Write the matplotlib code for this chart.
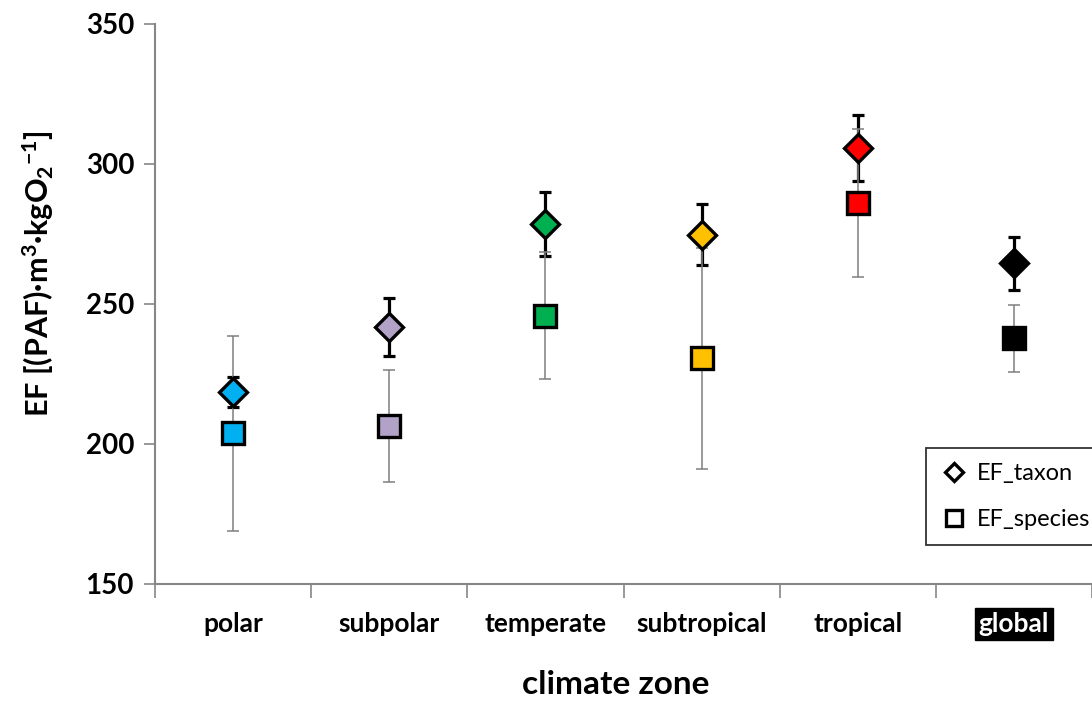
import matplotlib
matplotlib.use("Agg")
import matplotlib.pyplot as plt
from matplotlib.lines import Line2D
import numpy as np

plt.rcParams['font.family'] = ['Lato', 'DejaVu Sans']
plt.rcParams['font.weight'] = 'bold'
plt.rcParams['mathtext.fontset'] = 'custom'
plt.rcParams['mathtext.rm'] = 'Lato:bold'
plt.rcParams['mathtext.it'] = 'Lato:bold'
plt.rcParams['mathtext.bf'] = 'Lato:bold'
plt.rcParams['mathtext.default'] = 'rm'

zones = ['polar', 'subpolar', 'temperate', 'subtropical', 'tropical', 'global']
colors = ['#00B0F0', '#B3A2C7', '#00B050', '#FFC000', '#FF0000', '#000000']

ef_taxon = [218.5, 241.9, 278.5, 274.8, 305.6, 264.5]
ef_taxon_err = [5.3, 10.3, 11.5, 11.0, 11.8, 9.6]
ef_species = [203.8, 206.5, 245.8, 230.6, 286.2, 237.7]
ef_species_err = [34.9, 20.0, 22.7, 39.4, 26.4, 11.9]

W, H = 1092, 701
fig = plt.figure(figsize=(W / 100, H / 100), dpi=100)
ax = fig.add_axes([155 / W, 1 - 584 / H, (1096 - 155) / W, 560 / H])

x = np.arange(len(zones))
gray = '#7F7F7F'

ax.errorbar(x, ef_taxon, yerr=ef_taxon_err, fmt='none', ecolor='black',
            elinewidth=2.3, capsize=4.5, capthick=2.3, zorder=2)
ax.errorbar(x, ef_species, yerr=ef_species_err, fmt='none', ecolor=gray,
            elinewidth=1.1, capsize=4.5, capthick=1.1, zorder=3)
for xi, t, s, c in zip(x, ef_taxon, ef_species, colors):
    ax.plot(xi, t, marker='D', markersize=14.5, mfc=c, mec='black', mew=2.4,
            linestyle='none', zorder=5)
    ax.plot(xi, s, marker='s', markersize=16, mfc=c, mec='black', mew=2.4,
            linestyle='none', zorder=4)

ax.set_xlim(-0.5, 5.5 + 4 / 156.8)
ax.set_ylim(150, 350)
ax.set_yticks([150, 200, 250, 300, 350])
ax.set_xticks(x)
ax.set_xticks(np.arange(-0.5, 6.0, 1.0), minor=True)
ax.set_xticklabels(zones, fontsize=19, fontweight='bold')
ax.tick_params(axis='x', which='major', length=0, pad=20)
ax.tick_params(axis='x', which='minor', length=10, width=1.2, color='#868686')
ax.tick_params(axis='y', length=8, width=1.2, color='#868686', pad=7,
               labelsize=20)

for side in ['top', 'right']:
    ax.spines[side].set_visible(False)
for side in ['left', 'bottom']:
    ax.spines[side].set_color('#868686')
    ax.spines[side].set_linewidth(1.5)

glob = ax.get_xticklabels()[5]
glob.set_color('white')
glob.set_bbox(dict(facecolor='black', edgecolor='black', pad=3))

fig.text(38 / W, 1 - 274 / H, r'EF [(PAF)·m$^{3}$·kgO$_{2}$$^{-1}$]',
         rotation=90, ha='center', va='center', fontsize=22, fontweight='bold')
fig.text(616 / W, 1 - 685 / H, 'climate zone', ha='center', va='center',
         fontsize=24, fontweight='bold')

handles = [
    Line2D([], [], marker='D', markersize=9, mfc='white', mec='black', mew=2.4,
           linestyle='none'),
    Line2D([], [], marker='s', markersize=11, mfc='white', mec='black', mew=2.4,
           linestyle='none'),
]
leg = fig.legend(handles, ['EF_taxon', 'EF_species'], loc='upper left',
                 bbox_to_anchor=(926 / W, 1 - 448 / H),
                 prop={'size': 17, 'weight': 'normal'},
                 frameon=True, fancybox=False, labelspacing=1.05,
                 handletextpad=0.4, handlelength=1.1, borderpad=0.65,
                 borderaxespad=0)
leg.get_frame().set_edgecolor('black')
leg.get_frame().set_linewidth(1.3)

fig.savefig('out.png', dpi=100)
